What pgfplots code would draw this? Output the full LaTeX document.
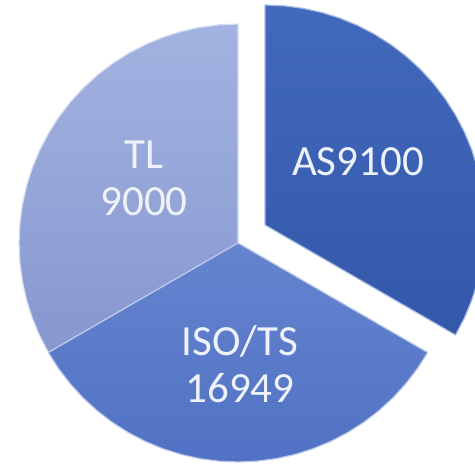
\documentclass[border=0pt]{standalone}
\usepackage{pgfplots}
\pgfplotsset{compat=1.18}
\usepackage{fontspec}
\setmainfont{Carlito}
\definecolor{asTop}{HTML}{4169BC}
\definecolor{asBot}{HTML}{3358AA}
\definecolor{isoTop}{HTML}{6584CF}
\definecolor{isoBot}{HTML}{5171C4}
\definecolor{tlTop}{HTML}{A2B3E1}
\definecolor{tlBot}{HTML}{8797CF}
\definecolor{txt}{HTML}{EEF2FA}
\begin{document}
\begin{tikzpicture}
\begin{axis}[
  width=475pt, height=466pt, scale only axis,
  xmin=-238, xmax=237, ymin=-223, ymax=243,
  hide axis, clip=true,
]
% TL 9000 slice (one third), 90 to 210 degrees
\addplot[data cs=polar, top color=tlTop, bottom color=tlBot, draw=white!55!tlTop, line width=1.2pt, line join=round]
 coordinates {(0,0) (90,219) (95,219) (100,219) (105,219) (110,219) (115,219) (120,219) (125,219) (130,219) (135,219) (140,219) (145,219) (150,219) (155,219) (160,219) (165,219) (170,219) (175,219) (180,219) (185,219) (190,219) (195,219) (200,219) (205,219) (210,219) (0,0)};
% ISO/TS 16949 slice (one third), 210 to 330 degrees
\addplot[data cs=polar, top color=isoTop, bottom color=isoBot, draw=white!55!isoTop, line width=1.2pt, line join=round]
 coordinates {(0,0) (210,219) (215,219) (220,219) (225,219) (230,219) (235,219) (240,219) (245,219) (250,219) (255,219) (260,219) (265,219) (270,219) (275,219) (280,219) (285,219) (290,219) (295,219) (300,219) (305,219) (310,219) (315,219) (320,219) (325,219) (330,219) (0,0)};
% AS9100 slice (one third), exploded, -30 to 90 degrees
\addplot[data cs=polar, top color=asTop, bottom color=asBot, draw=white!55!asTop, line width=1.2pt, line join=round, xshift=27pt, yshift=18pt]
 coordinates {(0,0) (-30,220) (-25,220) (-20,220) (-15,220) (-10,220) (-5,220) (0,220) (5,220) (10,220) (15,220) (20,220) (25,220) (30,220) (35,220) (40,220) (45,220) (50,220) (55,220) (60,220) (65,220) (70,220) (75,220) (80,220) (85,220) (90,220) (0,0)};
\node[text=txt, font=\fontsize{43}{47}\selectfont, align=center] at (axis cs:120,81) {AS9100};
\node[text=txt, font=\fontsize{43}{47}\selectfont, align=center] at (axis cs:-94,65) {TL\\9000};
\node[text=txt, font=\fontsize{43}{47}\selectfont, align=center] at (axis cs:2,-121) {ISO/TS\\16949};
\end{axis}
\pgfresetboundingbox
\path (current axis.south west) rectangle (current axis.north east);
\end{tikzpicture}
\end{document}
